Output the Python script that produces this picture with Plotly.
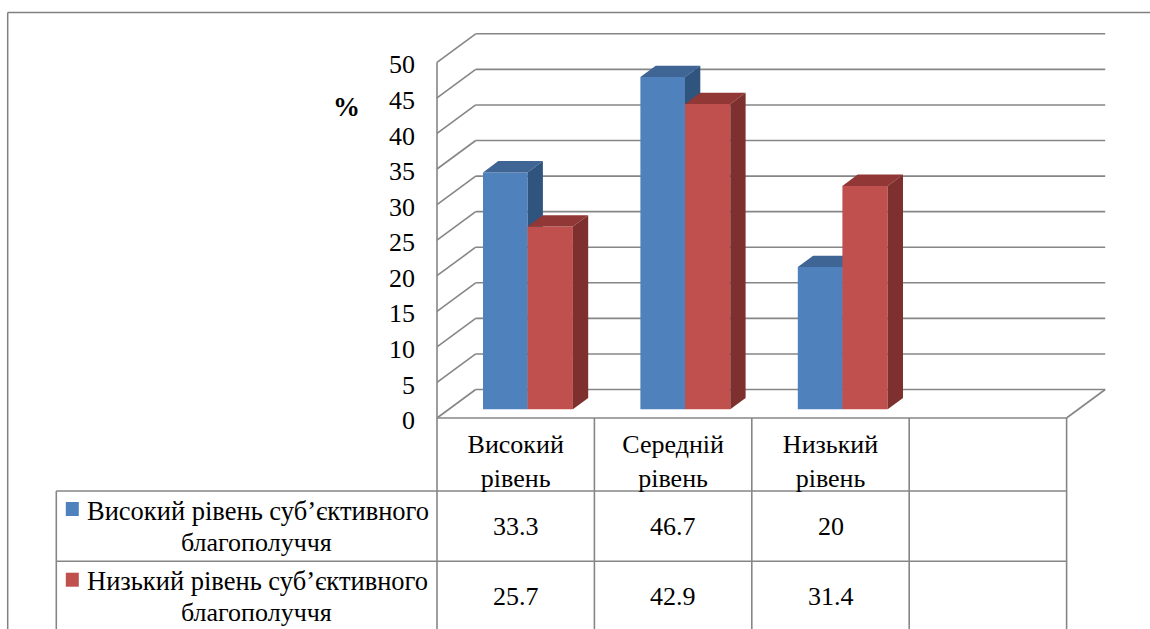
import plotly.graph_objects as go

# ---- data ----
categories = ["Високий<br>рівень", "Середній<br>рівень", "Низький<br>рівень"]
high_name = ["Високий рівень суб’єктивного", "благополуччя"]
low_name = ["Низький рівень суб’єктивного", "благополуччя"]
high_values = [33.3, 46.7, 20]
low_values = [25.7, 42.9, 31.4]
y_ticks = [0, 5, 10, 15, 20, 25, 30, 35, 40, 45, 50]
unit_label = "%"

# ---- colours ----
BLUE, BLUE_TOP, BLUE_SIDE = "#4F81BD", "#3E6594", "#2F547E"
RED, RED_TOP, RED_SIDE = "#C0504D", "#913735", "#7D302E"
GRID = "#868686"
FONT = "Liberation Serif"

# ---- geometry ----
W, H = 1150, 629
X0_PX, X_STEP = 515.7, 157.4      # centre of 1st category column, px per category
Y0_PX, Y_STEP = 418.0, 7.114      # y pixel of value 0, px per value unit
x_range = [(0 - X0_PX) / X_STEP, (W - X0_PX) / X_STEP]
y_range = [(Y0_PX - H) / Y_STEP, Y0_PX / Y_STEP]


def px(p):
    return (p - X0_PX) / X_STEP


def fx(p):
    return p / W


def fy(p):
    return 1 - p / H


WALL_DX, WALL_DY = 38.7 / X_STEP, 28.5 / Y_STEP
BAR_DX, BAR_DY = 15.3 / X_STEP, 11.3 / Y_STEP
BAR_BASE = 8.7 / Y_STEP
BLUE_OFF, BLUE_W = -32.7 / X_STEP, 44.6 / X_STEP
RED_OFF, RED_W = 11.9 / X_STEP, 45.3 / X_STEP
wall_x = px(437)
wall_right = px(1066.5)

fig = go.Figure()


def add_bars(values, offset, width, face, top, side, xa, ya):
    n = range(len(values))
    fig.add_trace(go.Bar(x=list(n), y=values, base=BAR_BASE, offset=offset, width=width,
                         marker=dict(color=face, line=dict(width=0)), xaxis=xa, yaxis=ya,
                         showlegend=False, hoverinfo="skip"))
    for i, v in zip(n, values):
        l, r = i + offset, i + offset + width
        t = v + BAR_BASE
        b = BAR_BASE
        fig.add_trace(go.Scatter(x=[l, r, r + BAR_DX, l + BAR_DX, l],
                                 y=[t, t, t + BAR_DY, t + BAR_DY, t],
                                 fill="toself", fillcolor=top, mode="none", xaxis=xa, yaxis=ya,
                                 showlegend=False, hoverinfo="skip"))
        fig.add_trace(go.Scatter(x=[r, r + BAR_DX, r + BAR_DX, r, r],
                                 y=[b, b + BAR_DY, t + BAR_DY, t, b],
                                 fill="toself", fillcolor=side, mode="none", xaxis=xa, yaxis=ya,
                                 showlegend=False, hoverinfo="skip"))


add_bars(high_values, BLUE_OFF, BLUE_W, BLUE, BLUE_TOP, BLUE_SIDE, "x", "y")
add_bars(low_values, RED_OFF, RED_W, RED, RED_TOP, RED_SIDE, "x2", "y2")

shapes = []


def seg(x0, y0, x1, y1, xref="x", yref="y", width=1.6, color=GRID):
    shapes.append(dict(type="line", x0=x0, y0=y0, x1=x1, y1=y1, xref=xref, yref=yref,
                       layer="below", line=dict(color=color, width=width)))


# walls and gridlines
for t in y_ticks:
    if t > 0:
        seg(wall_x, t, wall_x + WALL_DX, t + WALL_DY)
    seg(wall_x + WALL_DX, t + WALL_DY, wall_right + WALL_DX, t + WALL_DY)
seg(wall_x, 0, wall_x + WALL_DX, WALL_DY)
seg(wall_x, 0, wall_x, max(y_ticks))
seg(wall_right, 0, wall_right + WALL_DX, WALL_DY)

# outer frame
seg(7.7 / W, fy(12.5), 1, fy(12.5), "paper", "paper", 1.5, "#808080")
seg(7.7 / W, fy(12.5), 7.7 / W, 0, "paper", "paper", 1.5, "#808080")

# data table grid
col_lines = [437 + X_STEP * i for i in range(5)]
row_top, row1, row2 = 418.0, 491.0, 561.2
seg(fx(col_lines[0]), fy(row_top), fx(col_lines[-1]), fy(row_top), "paper", "paper")
seg(fx(56.3), fy(row1), fx(col_lines[-1]), fy(row1), "paper", "paper")
seg(fx(56.3), fy(row2), fx(col_lines[-1]), fy(row2), "paper", "paper")
seg(fx(56.3), fy(row1), fx(56.3), 0, "paper", "paper")
for c in col_lines:
    seg(fx(c), fy(row_top), fx(c), 0, "paper", "paper")

annotations = []


def txt(x, y, s, size=26, anchor="center", bold=False):
    annotations.append(dict(x=fx(x), y=fy(y), xref="paper", yref="paper", text=f"<b>{s}</b>" if bold else s,
                            showarrow=False, xanchor=anchor, yanchor="middle",
                            font=dict(family=FONT, size=size, color="#000000")))


txt(346.5, 107, unit_label, 27, bold=True)

for row_y, name, values, colour, swatch_y in (
    (526.7, high_name, high_values, BLUE, 509),
    (596.0, low_name, low_values, RED, 579.7),
):
    shapes.append(dict(type="rect", x0=fx(65.8), x1=fx(78.8), y0=fy(swatch_y - 7), y1=fy(swatch_y + 7),
                       xref="paper", yref="paper", fillcolor=colour, line=dict(width=0)))
    txt(84.5, swatch_y + 1.5, name[0], size=26.5, anchor="left")
    txt(256, swatch_y + 33, name[1])
    for i, v in enumerate(values):
        txt(X0_PX + X_STEP * i, row_y, str(v))

fig.update_layout(
    width=W, height=H, margin=dict(l=0, r=0, t=0, b=0), autosize=False,
    paper_bgcolor="white", plot_bgcolor="white", barmode="overlay", hovermode=False,
    shapes=shapes, annotations=annotations,
    font=dict(family=FONT, color="#000000"),
    xaxis=dict(range=x_range, domain=[0, 1], anchor="free", position=fy(Y0_PX), side="bottom",
               tickmode="array", tickvals=list(range(len(categories))), ticktext=categories,
               tickfont=dict(family=FONT, size=26), ticks="", showgrid=False, showline=False,
               zeroline=False, ticklabelstandoff=8),
    yaxis=dict(range=y_range, domain=[0, 1], anchor="free", position=fx(437),
               tickmode="array", tickvals=y_ticks, ticktext=[str(t) for t in y_ticks],
               tickfont=dict(family=FONT, size=26), ticks="", showgrid=False, showline=False,
               zeroline=False, ticklabelstandoff=22, ticklabelshift=2),
    xaxis2=dict(range=x_range, overlaying="x", visible=False),
    yaxis2=dict(range=y_range, overlaying="y", visible=False),
)

fig.write_html("out.html", config={"displayModeBar": False},
               post_script="document.body.style.margin='0';document.body.style.overflow='hidden';")
